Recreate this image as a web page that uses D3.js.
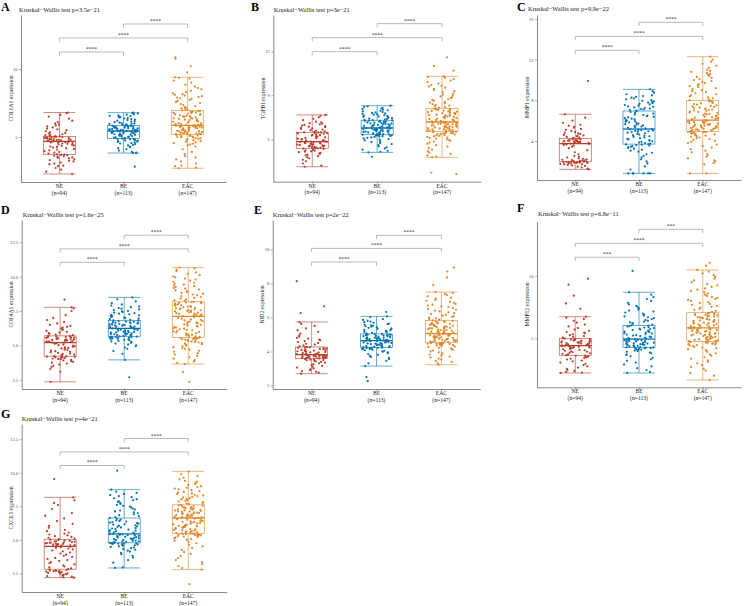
<!DOCTYPE html>
<html><head><meta charset="utf-8">
<script src="https://cdn.jsdelivr.net/npm/d3@7"></script>
<style>
body{margin:0;background:#fff}
svg{display:block}
text{font-family:"Liberation Serif","Times New Roman",serif}
</style>
</head><body><svg id="c" width="753" height="606"></svg>
<script>
// ---------------- data ----------------
const groups = ["NE","BE","EAC"];
const groupN = ["(n=94)","(n=113)","(n=147)"];
const colors = ["#BC3C29","#0072B5","#E18727"];
const panelLetters = ["A","B","C","D","E","F","G"];
const genes = ["COL1A1","TGFBI","MMP1","COL4A1","NID2","MMP12","CXCL1"];
const kwP = ["3.5e\u221221","3e\u221221","9.9e\u221222","1.6e\u221225","2e\u221222","6.8e\u221211","4e\u221221"];
const yTicks = [[5,10],[6,9,12],[4,8,12,16],[2.5,5,7.5,10,12.5],[2,4,6,8,10],[5,10],[2.5,5,7.5,10,12.5]];
const yTickLabels = [["5","10"],["6","9","12"],["4","8","12","16"],["2.5","5.0","7.5","10.0","12.5"],["2","4","6","8","10"],["5","10"],["2.5","5.0","7.5","10.0","12.5"]];
const yDomains = [[1.69,13.97],[3.11,14.47],[0.17,16.39],[1.85,14.1],[1.79,11.73],[1.07,14.35],[1.12,13.63]];
const comparisons = [[1,2],[0,2],[0,1]];
const sigA = ["****","****","****"], sigB = ["****","****","****"], sigC = ["****","****","****"],
      sigD = ["****","****","****"], sigE = ["****","****","****"], sigF = ["***","****","***"], sigG = ["****","****","****"];
const sigLabels = [sigA,sigB,sigC,sigD,sigE,sigF,sigG];
const bracketY = [[13.31,12.28,11.25],[13.88,12.93,11.97],[15.67,14.29,12.92],[13.0,12.01,11.03],[10.83,10.06,9.26],[13.74,12.62,11.5],[12.55,11.55,10.54]];

// box stats per group: [lower whisker, Q1, median, Q3, upper whisker]
const boxA = [[2.28,3.73,4.68,5.05,6.8],[3.82,4.9,5.44,5.83,6.79],[2.7,5.2,5.86,6.96,9.39]];
const boxB = [[4.13,5.39,5.84,6.48,7.66],[5.11,6.31,6.77,7.3,8.29],[4.77,6.52,7.18,8.11,10.29]];
const boxC = [[1.22,1.96,3.74,4.27,6.63],[0.82,3.7,5.18,6.95,9.08],[0.82,4.92,6.06,8.0,12.29]];
const boxD = [[2.37,4.23,5.21,5.7,7.77],[3.96,5.65,6.24,6.83,8.49],[3.66,5.58,7.11,8.17,10.65]];
const boxE = [[2.69,3.58,3.81,4.26,5.73],[3.14,4.23,4.63,5.03,6.06],[3.22,4.51,5.05,5.83,7.49]];
const boxF = [[2.22,3.64,4.41,5.0,6.73],[2.22,4.28,4.94,6.04,8.69],[1.66,4.76,5.83,7.05,10.48]];
const boxG = [[2.19,2.82,4.52,5.05,8.17],[2.91,4.78,5.45,6.63,8.74],[2.79,5.48,6.63,7.61,10.1]];
const boxStats = [boxA,boxB,boxC,boxD,boxE,boxF,boxG];

// individual sample values
const A_NE = [2.28,2.45,2.6,2.72,2.85,2.9,3.0,3.05,3.12,3.2,3.25,3.3,3.38,3.42,3.47,3.5,3.55,3.58,3.62,3.65,3.68,3.7,3.73,
3.78,3.85,3.9,3.96,4.02,4.08,4.12,4.18,4.22,4.27,4.3,4.35,4.38,4.42,4.45,4.5,4.52,4.55,4.58,4.6,4.62,4.64,4.66,4.68,
4.69,4.7,4.72,4.73,4.75,4.76,4.78,4.8,4.81,4.83,4.85,4.86,4.88,4.9,4.91,4.93,4.95,4.96,4.98,5.0,5.01,5.02,5.04,5.05,
5.08,5.12,5.15,5.2,5.25,5.3,5.35,5.42,5.5,5.56,5.62,5.7,5.78,5.85,5.92,6.0,6.1,6.2,6.35,6.5,6.62,6.75,6.8];
const A_BE = [2.82,3.82,3.83,3.85,3.9,4.0,4.1,4.18,4.25,4.3,4.38,4.42,4.48,4.52,4.55,4.6,4.63,4.66,4.7,4.72,4.75,4.78,4.8,4.83,4.85,4.87,4.89,4.9,
4.92,4.95,4.97,5.0,5.02,5.05,5.07,5.1,5.12,5.14,5.16,5.18,5.2,5.22,5.24,5.26,5.28,5.3,5.32,5.34,5.35,5.37,5.38,5.4,5.41,5.42,5.43,5.44,
5.45,5.46,5.48,5.49,5.5,5.52,5.53,5.55,5.56,5.58,5.59,5.6,5.62,5.63,5.65,5.66,5.68,5.69,5.7,5.72,5.73,5.75,5.76,5.78,5.79,5.8,5.82,5.83,
5.85,5.87,5.9,5.93,5.95,5.98,6.0,6.03,6.06,6.1,6.13,6.16,6.2,6.24,6.28,6.32,6.36,6.4,6.44,6.48,6.5,6.53,6.56,6.6,6.64,6.68,6.72,6.76,6.79];
const A_EAC = [2.7,2.75,2.85,2.9,3.05,3.2,3.35,3.5,3.6,3.75,3.9,4.1,4.3,4.4,4.45,4.5,4.55,4.6,4.65,4.7,4.75,4.8,4.83,4.86,4.9,4.92,4.95,4.98,5.0,5.03,5.05,5.08,5.1,5.12,5.15,5.18,5.2,
5.21,5.23,5.25,5.27,5.29,5.31,5.33,5.35,5.37,5.39,5.41,5.43,5.45,5.47,5.49,5.51,5.53,5.55,5.57,5.59,5.61,5.63,5.65,5.67,5.69,5.71,5.73,5.74,5.76,5.77,5.79,5.8,5.82,5.83,5.84,5.85,5.86,
5.88,5.91,5.94,5.97,6.0,6.03,6.06,6.09,6.12,6.15,6.18,6.21,6.24,6.27,6.3,6.33,6.36,6.39,6.42,6.45,6.48,6.51,6.54,6.57,6.6,6.63,6.66,6.69,6.72,6.75,6.78,6.81,6.84,6.87,6.9,6.93,6.96,
7.0,7.05,7.1,7.15,7.2,7.28,7.35,7.42,7.5,7.58,7.65,7.72,7.8,7.85,7.9,7.95,8.0,8.05,8.1,8.15,8.2,8.3,8.4,8.5,8.6,8.7,8.85,9.0,9.15,9.3,9.35,9.39,9.75,10.2,10.75,10.86];

const B_NE = [4.13,4.2,4.35,4.5,4.6,4.7,4.78,4.85,4.9,4.95,5.0,5.05,5.08,5.12,5.15,5.18,5.22,5.25,5.28,5.31,5.34,5.37,5.39,
5.4,5.42,5.44,5.46,5.48,5.5,5.52,5.54,5.56,5.58,5.6,5.62,5.64,5.66,5.68,5.7,5.72,5.74,5.76,5.78,5.8,5.81,5.83,5.84,
5.86,5.89,5.92,5.95,5.98,6.01,6.04,6.07,6.1,6.13,6.16,6.19,6.22,6.25,6.28,6.31,6.34,6.37,6.4,6.42,6.44,6.46,6.47,6.48,
6.5,6.54,6.58,6.62,6.66,6.7,6.74,6.78,6.82,6.86,6.9,6.94,6.98,7.02,7.06,7.1,7.15,7.2,7.3,7.4,7.5,7.6,7.66];
const B_BE = [4.81,5.11,5.15,5.22,5.3,5.38,5.45,5.52,5.6,5.68,5.75,5.82,5.88,5.93,5.98,6.02,6.06,6.1,6.13,6.16,6.19,6.21,6.23,6.25,6.27,6.28,6.3,6.31,
6.32,6.34,6.35,6.37,6.39,6.4,6.42,6.44,6.45,6.47,6.49,6.5,6.52,6.54,6.55,6.57,6.59,6.6,6.62,6.64,6.65,6.67,6.69,6.7,6.72,6.74,6.75,6.77,
6.79,6.81,6.83,6.85,6.87,6.89,6.91,6.93,6.95,6.97,6.99,7.01,7.03,7.05,7.07,7.09,7.11,7.13,7.15,7.17,7.19,7.21,7.23,7.24,7.26,7.27,7.29,7.3,
7.32,7.35,7.38,7.41,7.44,7.47,7.5,7.53,7.56,7.59,7.62,7.65,7.68,7.71,7.74,7.77,7.8,7.83,7.86,7.9,7.94,7.98,8.02,8.06,8.1,8.15,8.2,8.25,8.29];
const B_EAC = [3.63,3.72,4.77,4.82,4.9,5.0,5.1,5.2,5.3,5.4,5.5,5.6,5.7,5.78,5.85,5.9,5.95,6.0,6.04,6.08,6.12,6.16,6.2,6.23,6.26,6.29,6.32,6.35,6.37,6.39,6.41,6.43,6.45,6.47,6.49,6.51,6.52,
6.54,6.56,6.57,6.59,6.61,6.63,6.65,6.67,6.68,6.7,6.72,6.74,6.76,6.77,6.79,6.81,6.83,6.85,6.86,6.88,6.9,6.92,6.94,6.95,6.97,6.99,7.01,7.03,7.04,7.06,7.08,7.1,7.12,7.13,7.15,7.17,7.18,
7.2,7.23,7.25,7.28,7.3,7.33,7.35,7.38,7.4,7.43,7.45,7.48,7.5,7.53,7.55,7.58,7.6,7.63,7.65,7.68,7.7,7.73,7.75,7.78,7.8,7.83,7.85,7.88,7.9,7.93,7.95,7.98,8.0,8.03,8.05,8.08,8.11,
8.15,8.2,8.25,8.3,8.35,8.4,8.45,8.5,8.56,8.62,8.68,8.74,8.8,8.86,8.92,8.98,9.05,9.12,9.2,9.28,9.36,9.44,9.52,9.6,9.65,9.7,9.8,9.9,10.0,10.1,10.2,10.25,10.29,10.68,11.0,11.59];

const C_NE = [1.22,1.3,1.4,1.48,1.55,1.6,1.65,1.7,1.73,1.76,1.79,1.82,1.84,1.86,1.88,1.9,1.91,1.92,1.93,1.94,1.95,1.96,1.96,
1.98,2.0,2.02,2.05,2.08,2.1,2.13,2.16,2.2,2.25,2.3,2.38,2.45,2.55,2.7,2.9,3.1,3.3,3.45,3.55,3.62,3.67,3.71,3.74,
3.76,3.78,3.8,3.82,3.84,3.86,3.88,3.9,3.92,3.94,3.96,3.98,4.0,4.02,4.04,4.06,4.08,4.1,4.13,4.16,4.19,4.22,4.25,4.27,
4.3,4.35,4.4,4.45,4.5,4.55,4.6,4.68,4.75,4.82,4.9,5.0,5.1,5.2,5.3,5.4,5.5,5.6,5.8,6.0,6.3,6.63,9.9];
const C_BE = [0.82,0.82,0.82,0.82,0.82,0.82,1.2,1.5,1.8,2.0,2.2,2.4,2.55,2.7,2.85,2.95,3.05,3.15,3.25,3.32,3.4,3.45,3.5,3.55,3.6,3.64,3.67,3.7,
3.75,3.8,3.86,3.92,3.98,4.04,4.1,4.16,4.22,4.28,4.34,4.4,4.46,4.52,4.58,4.64,4.7,4.76,4.82,4.88,4.92,4.96,5.0,5.04,5.08,5.12,5.15,5.18,
5.24,5.3,5.36,5.42,5.48,5.54,5.6,5.66,5.72,5.78,5.84,5.9,5.96,6.02,6.08,6.14,6.2,6.26,6.32,6.38,6.44,6.5,6.56,6.62,6.7,6.78,6.86,6.95,
7.0,7.05,7.1,7.15,7.2,7.25,7.3,7.36,7.42,7.48,7.54,7.6,7.66,7.72,7.78,7.84,7.9,7.96,8.02,8.1,8.18,8.26,8.34,8.42,8.5,8.6,8.75,8.9,9.08];
const C_EAC = [0.82,0.82,1.7,1.85,2.0,2.1,2.3,2.45,2.6,2.75,2.9,3.05,3.2,3.35,3.5,3.65,3.8,3.92,4.02,4.12,4.2,4.28,4.35,4.42,4.48,4.54,4.6,4.65,4.7,4.74,4.78,4.82,4.85,4.87,4.89,4.91,4.92,
4.95,4.98,5.01,5.04,5.07,5.1,5.13,5.16,5.19,5.22,5.25,5.28,5.31,5.34,5.37,5.4,5.43,5.46,5.49,5.52,5.55,5.58,5.61,5.64,5.67,5.7,5.73,5.76,5.79,5.82,5.85,5.88,5.91,5.94,5.97,6.01,6.06,
6.1,6.15,6.2,6.25,6.3,6.35,6.4,6.45,6.5,6.55,6.6,6.65,6.7,6.75,6.8,6.85,6.9,6.95,7.0,7.05,7.1,7.15,7.2,7.25,7.3,7.35,7.4,7.46,7.52,7.58,7.64,7.7,7.76,7.82,7.88,7.94,8.0,
8.1,8.2,8.3,8.4,8.5,8.6,8.7,8.8,8.9,9.0,9.1,9.2,9.3,9.4,9.5,9.6,9.7,9.8,9.9,10.0,10.1,10.2,10.3,10.4,10.5,10.6,10.7,10.8,10.9,11.0,11.2,11.4,11.6,11.8,12.0,12.29];

const D_NE = [2.37,3.1,3.3,3.45,3.55,3.62,3.7,3.76,3.82,3.87,3.92,3.96,4.0,4.03,4.06,4.09,4.12,4.14,4.16,4.18,4.2,4.22,4.23,
4.27,4.31,4.35,4.39,4.43,4.47,4.51,4.55,4.59,4.63,4.67,4.71,4.75,4.79,4.83,4.87,4.91,4.95,4.99,5.03,5.08,5.13,5.17,5.21,
5.23,5.25,5.27,5.29,5.31,5.33,5.35,5.37,5.39,5.41,5.43,5.45,5.47,5.49,5.51,5.53,5.55,5.57,5.59,5.61,5.63,5.65,5.68,5.7,
5.75,5.8,5.85,5.9,5.95,6.0,6.06,6.12,6.18,6.24,6.3,6.36,6.42,6.5,6.6,6.7,6.85,7.0,7.2,7.5,7.7,7.77,8.33];
const D_BE = [2.7,3.96,4.4,4.6,4.75,4.85,4.95,5.02,5.08,5.14,5.2,5.25,5.3,5.34,5.38,5.42,5.45,5.48,5.5,5.52,5.54,5.56,5.58,5.6,5.61,5.62,5.64,5.65,
5.67,5.69,5.71,5.73,5.75,5.77,5.79,5.81,5.83,5.85,5.87,5.89,5.91,5.93,5.95,5.97,5.99,6.01,6.04,6.06,6.08,6.1,6.13,6.15,6.17,6.19,6.21,6.24,
6.26,6.28,6.3,6.32,6.34,6.36,6.38,6.4,6.42,6.44,6.46,6.48,6.5,6.52,6.54,6.56,6.58,6.6,6.62,6.64,6.66,6.68,6.7,6.72,6.74,6.77,6.8,6.83,
6.87,6.91,6.95,6.99,7.03,7.07,7.11,7.15,7.19,7.23,7.27,7.31,7.35,7.39,7.43,7.47,7.52,7.57,7.62,7.67,7.72,7.78,7.84,7.9,7.98,8.08,8.2,8.35,8.49];
const D_EAC = [2.37,3.07,3.66,3.75,3.85,3.95,4.05,4.15,4.25,4.35,4.45,4.55,4.62,4.7,4.76,4.82,4.88,4.94,5.0,5.05,5.1,5.14,5.18,5.22,5.26,5.3,5.33,5.36,5.39,5.42,5.45,5.47,5.5,5.52,5.54,5.56,5.58,
5.62,5.66,5.7,5.74,5.78,5.82,5.86,5.9,5.94,5.98,6.02,6.06,6.1,6.14,6.18,6.22,6.26,6.3,6.34,6.38,6.42,6.46,6.5,6.54,6.58,6.62,6.66,6.7,6.74,6.78,6.82,6.86,6.9,6.95,7.0,7.05,7.11,
7.14,7.17,7.2,7.23,7.26,7.29,7.32,7.35,7.38,7.41,7.44,7.47,7.5,7.53,7.56,7.59,7.62,7.65,7.68,7.71,7.74,7.77,7.8,7.83,7.86,7.89,7.92,7.95,7.98,8.01,8.04,8.07,8.1,8.12,8.14,8.16,8.17,
8.22,8.28,8.34,8.4,8.46,8.52,8.58,8.64,8.7,8.76,8.82,8.88,8.94,9.0,9.06,9.12,9.18,9.24,9.3,9.36,9.42,9.48,9.55,9.62,9.7,9.78,9.86,9.94,10.02,10.1,10.2,10.3,10.4,10.5,10.6,10.65];

const E_NE = [2.69,2.75,2.8,2.85,2.9,2.95,3.0,3.05,3.1,3.15,3.2,3.25,3.3,3.34,3.38,3.42,3.45,3.48,3.5,3.52,3.54,3.56,3.58,
3.59,3.6,3.61,3.62,3.63,3.64,3.65,3.66,3.67,3.68,3.69,3.7,3.71,3.72,3.73,3.74,3.75,3.76,3.77,3.78,3.79,3.8,3.8,3.81,
3.83,3.85,3.87,3.89,3.91,3.93,3.95,3.97,3.99,4.01,4.03,4.05,4.07,4.09,4.11,4.13,4.15,4.17,4.19,4.21,4.22,4.24,4.25,4.26,
4.3,4.35,4.4,4.45,4.5,4.55,4.6,4.65,4.7,4.75,4.8,4.87,4.95,5.05,5.15,5.25,5.35,5.5,5.62,5.73,6.26,6.65,8.13];
const E_BE = [2.25,2.49,3.14,3.3,3.45,3.55,3.62,3.68,3.74,3.8,3.85,3.9,3.94,3.98,4.01,4.04,4.07,4.1,4.12,4.14,4.16,4.17,4.18,4.19,4.2,4.21,4.22,4.23,
4.25,4.26,4.28,4.29,4.31,4.32,4.34,4.35,4.37,4.38,4.4,4.41,4.43,4.44,4.46,4.47,4.49,4.5,4.52,4.53,4.55,4.56,4.58,4.59,4.6,4.61,4.62,4.63,
4.65,4.66,4.68,4.69,4.71,4.72,4.74,4.75,4.77,4.78,4.8,4.81,4.83,4.84,4.86,4.87,4.89,4.9,4.92,4.93,4.95,4.96,4.97,4.98,4.99,5.0,5.02,5.03,
5.06,5.09,5.12,5.15,5.18,5.21,5.24,5.27,5.3,5.33,5.36,5.39,5.42,5.45,5.48,5.51,5.54,5.57,5.6,5.64,5.68,5.72,5.76,5.8,5.85,5.9,6.32,6.02,6.06];
const E_EAC = [3.22,3.3,3.38,3.45,3.52,3.58,3.64,3.7,3.76,3.82,3.88,3.94,4.0,4.05,4.1,4.14,4.18,4.22,4.26,4.29,4.32,4.35,4.37,4.39,4.41,4.42,4.43,4.44,4.45,4.46,4.47,4.48,4.49,4.5,4.5,4.51,4.51,
4.53,4.55,4.56,4.58,4.59,4.61,4.62,4.64,4.65,4.67,4.68,4.7,4.71,4.73,4.74,4.76,4.77,4.79,4.8,4.82,4.83,4.85,4.86,4.88,4.89,4.91,4.92,4.94,4.95,4.97,4.98,5.0,5.01,5.02,5.03,5.04,5.05,
5.07,5.09,5.11,5.13,5.15,5.17,5.19,5.21,5.23,5.25,5.27,5.29,5.31,5.33,5.35,5.37,5.39,5.41,5.43,5.45,5.47,5.49,5.51,5.53,5.55,5.57,5.59,5.61,5.63,5.65,5.67,5.69,5.72,5.75,5.78,5.8,5.83,
5.87,5.91,5.95,5.99,6.03,6.07,6.11,6.15,6.2,6.25,6.3,6.35,6.4,6.45,6.5,6.55,6.6,6.65,6.7,6.75,6.8,6.86,6.92,6.98,7.04,7.1,7.17,7.24,7.31,7.38,7.44,7.49,7.9,8.35,8.7,8.93];

const F_NE = [2.22,2.25,2.3,2.38,2.45,2.55,2.65,2.75,2.85,2.95,3.05,3.15,3.22,3.3,3.36,3.42,3.47,3.51,3.55,3.58,3.6,3.62,3.64,
3.68,3.72,3.76,3.8,3.84,3.88,3.92,3.96,4.0,4.04,4.08,4.12,4.16,4.2,4.23,4.26,4.29,4.31,4.33,4.35,4.37,4.39,4.4,4.41,
4.43,4.46,4.48,4.51,4.53,4.56,4.58,4.61,4.63,4.66,4.68,4.71,4.73,4.76,4.78,4.81,4.83,4.86,4.88,4.91,4.93,4.96,4.98,5.0,
5.06,5.12,5.18,5.25,5.32,5.4,5.45,5.5,5.6,5.7,5.82,5.95,6.1,6.25,6.4,6.55,6.65,6.73,7.37,7.8,8.42,9.3,9.78];
const F_BE = [2.22,2.3,2.45,2.6,2.75,2.9,3.05,3.2,3.32,3.44,3.55,3.64,3.72,3.8,3.86,3.92,3.97,4.02,4.06,4.1,4.13,4.16,4.19,4.21,4.23,4.25,4.27,4.28,
4.3,4.33,4.35,4.38,4.4,4.43,4.45,4.48,4.5,4.53,4.55,4.58,4.6,4.63,4.65,4.68,4.7,4.73,4.75,4.78,4.8,4.83,4.85,4.87,4.89,4.91,4.93,4.94,
4.98,5.02,5.06,5.1,5.14,5.18,5.22,5.26,5.3,5.34,5.38,5.42,5.46,5.5,5.54,5.58,5.62,5.66,5.7,5.74,5.78,5.82,5.86,5.9,5.94,5.98,6.01,6.04,
6.1,6.16,6.22,6.28,6.34,6.4,6.47,6.54,6.61,6.68,6.75,6.82,6.9,6.98,7.06,7.14,7.22,7.3,7.4,7.5,7.6,7.72,7.85,8.0,8.15,8.3,8.5,8.69,10.4];
const F_EAC = [1.66,2.0,2.2,2.4,2.55,2.7,2.85,3.0,3.12,3.24,3.36,3.48,3.6,3.7,3.8,3.9,3.98,4.06,4.13,4.2,4.26,4.32,4.37,4.42,4.46,4.5,4.54,4.57,4.6,4.63,4.65,4.67,4.69,4.71,4.73,4.75,4.76,
4.79,4.82,4.85,4.88,4.91,4.94,4.97,5.0,5.03,5.06,5.09,5.12,5.15,5.18,5.21,5.24,5.27,5.3,5.33,5.36,5.39,5.42,5.45,5.48,5.51,5.54,5.57,5.6,5.63,5.66,5.69,5.72,5.75,5.77,5.79,5.81,5.83,
5.86,5.9,5.93,5.97,6.0,6.04,6.07,6.11,6.14,6.18,6.21,6.25,6.28,6.32,6.35,6.39,6.42,6.46,6.49,6.53,6.56,6.6,6.63,6.67,6.7,6.74,6.77,6.8,6.83,6.86,6.89,6.92,6.95,6.98,7.0,7.03,7.05,
7.12,7.2,7.28,7.36,7.44,7.52,7.6,7.68,7.76,7.84,7.92,8.0,8.08,8.16,8.24,8.32,8.4,8.5,8.6,8.7,8.8,8.9,9.0,9.12,9.24,9.36,9.5,9.64,9.78,9.92,10.06,10.2,10.34,10.48,10.8,11.06];

const G_NE = [2.19,2.22,2.26,2.3,2.34,2.38,2.42,2.45,2.48,2.51,2.54,2.57,2.6,2.62,2.64,2.66,2.68,2.7,2.72,2.74,2.76,2.79,2.82,
2.88,2.95,3.02,3.1,3.18,3.26,3.34,3.42,3.5,3.58,3.66,3.74,3.82,3.9,3.98,4.06,4.14,4.22,4.3,4.36,4.41,4.45,4.49,4.52,
4.54,4.56,4.58,4.6,4.62,4.64,4.66,4.68,4.7,4.72,4.74,4.76,4.78,4.8,4.82,4.84,4.86,4.88,4.9,4.93,4.96,4.99,5.02,5.05,
5.1,5.16,5.22,5.28,5.34,5.4,5.47,5.55,5.65,5.75,5.9,6.05,6.2,6.4,6.6,6.8,7.0,7.3,7.6,7.75,7.95,8.17,9.53];
const G_BE = [2.91,2.95,3.3,3.5,3.68,3.82,3.94,4.04,4.12,4.2,4.26,4.32,4.38,4.43,4.48,4.52,4.56,4.6,4.63,4.66,4.68,4.7,4.72,4.73,4.74,4.75,4.77,4.78,
4.8,4.83,4.85,4.88,4.9,4.93,4.95,4.98,5.0,5.03,5.05,5.08,5.1,5.13,5.15,5.18,5.2,5.23,5.25,5.28,5.3,5.33,5.35,5.38,5.4,5.42,5.44,5.45,
5.49,5.53,5.57,5.61,5.65,5.69,5.73,5.77,5.81,5.85,5.89,5.93,5.97,6.01,6.05,6.09,6.13,6.17,6.21,6.25,6.29,6.33,6.37,6.41,6.46,6.51,6.57,6.63,
6.7,6.77,6.84,6.91,6.98,7.05,7.12,7.19,7.26,7.33,7.4,7.47,7.54,7.61,7.68,7.75,7.82,7.89,7.96,8.03,8.1,8.18,8.26,8.34,8.42,8.5,8.6,8.74,10.16];
const G_EAC = [1.71,2.79,2.9,3.05,3.2,3.35,3.5,3.65,3.8,3.95,4.1,4.25,4.4,4.52,4.64,4.75,4.85,4.94,5.02,5.08,5.13,5.17,5.21,5.25,5.28,5.31,5.34,5.36,5.38,5.4,5.42,5.43,5.44,5.45,5.46,5.47,5.48,
5.51,5.54,5.57,5.6,5.63,5.66,5.69,5.72,5.75,5.78,5.81,5.84,5.87,5.9,5.93,5.96,5.99,6.02,6.05,6.08,6.11,6.14,6.17,6.2,6.23,6.26,6.29,6.32,6.35,6.38,6.41,6.44,6.47,6.5,6.54,6.58,6.63,
6.65,6.68,6.7,6.73,6.75,6.78,6.8,6.83,6.85,6.88,6.9,6.93,6.95,6.98,7.0,7.03,7.05,7.08,7.1,7.13,7.15,7.18,7.2,7.23,7.25,7.28,7.3,7.33,7.36,7.39,7.42,7.45,7.48,7.52,7.55,7.58,7.61,
7.66,7.71,7.76,7.81,7.86,7.91,7.96,8.01,8.06,8.11,8.16,8.21,8.26,8.31,8.36,8.41,8.46,8.52,8.58,8.64,8.7,8.76,8.82,8.88,8.94,9.0,9.08,9.16,9.24,9.32,9.4,9.5,9.62,9.75,9.9,10.1];

const values = [[A_NE,A_BE,A_EAC],[B_NE,B_BE,B_EAC],[C_NE,C_BE,C_EAC],[D_NE,D_BE,D_EAC],[E_NE,E_BE,E_EAC],[F_NE,F_BE,F_EAC],[G_NE,G_BE,G_EAC]];

// ---------------- layout (pixels) ----------------
const frames = [
  {ax:21,   right:226,   top:15,    bottom:182,   lx:1,   ly:11,  tx:19,    ty:12.3},
  {ax:273.3,right:481,   top:15,    bottom:181.7, lx:251, ly:11,  tx:273.7, ty:12.3},
  {ax:537,  right:741,   top:15,    bottom:180,   lx:517, ly:11,  tx:528,   ty:11},
  {ax:21.7, right:226.7, top:220,   bottom:389,   lx:1,   ly:214, tx:22.7,  ty:217.3},
  {ax:272.7,right:480.3, top:220,   bottom:389,   lx:254, ly:214, tx:272.7, ty:217.3},
  {ax:537,  right:741,   top:221.7, bottom:387.3, lx:517, ly:212, tx:538,   ty:215.7},
  {ax:21.7, right:226.7, top:424,   bottom:592,   lx:1,   ly:418, tx:21.7,  ty:420.5}
];
const boxW = 32, jitterHalf = 15;

function jit(p,g,i){ const h = Math.sin((p*1009+g*317+i+1)*12.9898)*43758.5453; return h-Math.floor(h); }

const svg = d3.select("#c");
svg.append("rect").attr("width",753).attr("height",606).attr("fill","#fff");

frames.forEach((f,p)=>{
  const g = svg.append("g");
  const y = d3.scaleLinear().domain(yDomains[p]).range([f.bottom,f.top]);
  const x = d3.scalePoint().domain(groups).range([f.ax,f.right]).padding(0.6);

  // panel letter and title
  g.append("text").attr("x",f.lx).attr("y",f.ly).attr("font-size",12).attr("font-weight","bold").attr("fill","#000").text(panelLetters[p]);
  g.append("text").attr("x",f.tx).attr("y",f.ty).attr("font-size",6.5).attr("fill","#1a1a1a").text("Kruskal\u2212Wallis test p="+kwP[p]);

  // boxes
  groups.forEach((grp,gi)=>{
    const s = boxStats[p][gi], cx = x(grp), col = colors[gi];
    const bg = g.append("g").attr("stroke",col).attr("fill","none");
    bg.append("line").attr("x1",cx).attr("x2",cx).attr("y1",y(s[0])).attr("y2",y(s[1])).attr("stroke-width",0.6);
    bg.append("line").attr("x1",cx).attr("x2",cx).attr("y1",y(s[3])).attr("y2",y(s[4])).attr("stroke-width",0.6);
    bg.append("line").attr("x1",cx-boxW/2).attr("x2",cx+boxW/2).attr("y1",y(s[0])).attr("y2",y(s[0])).attr("stroke-width",0.6);
    bg.append("line").attr("x1",cx-boxW/2).attr("x2",cx+boxW/2).attr("y1",y(s[4])).attr("y2",y(s[4])).attr("stroke-width",0.6);
    bg.append("rect").attr("x",cx-boxW/2).attr("width",boxW).attr("y",y(s[3])).attr("height",y(s[1])-y(s[3])).attr("fill","#fff").attr("stroke-width",0.6);
    bg.append("line").attr("x1",cx-boxW/2).attr("x2",cx+boxW/2).attr("y1",y(s[2])).attr("y2",y(s[2])).attr("stroke-width",1.3);
  });
  // points
  groups.forEach((grp,gi)=>{
    const cx = x(grp);
    g.append("g").selectAll("circle").data(values[p][gi]).join("circle")
      .attr("cx",(d,i)=>cx+(jit(p,gi,i)*2-1)*jitterHalf)
      .attr("cy",d=>y(d)).attr("r",1.1).attr("fill",colors[gi]);
  });

  // axes
  const ya = g.append("g").attr("transform",`translate(${f.ax},0)`)
    .call(d3.axisLeft(y).tickValues(yTicks[p]).tickFormat((d,i)=>yTickLabels[p][i]).tickSize(2).tickSizeOuter(0).tickPadding(1.5));
  ya.select(".domain").attr("stroke","#555").attr("stroke-width",0.7);
  ya.selectAll(".tick line").attr("stroke","#555").attr("stroke-width",0.5);
  ya.selectAll(".tick text").attr("font-size",4.5).attr("fill","#4d4d4d").attr("font-family","Liberation Serif");

  const xa = g.append("g").attr("transform",`translate(0,${f.bottom})`)
    .call(d3.axisBottom(x).tickSize(2).tickSizeOuter(0).tickFormat(""));
  xa.select(".domain").attr("stroke","#555").attr("stroke-width",0.7);
  xa.selectAll(".tick line").attr("stroke","#555").attr("stroke-width",0.5);
  groups.forEach((grp,gi)=>{
    g.append("text").attr("x",x(grp)).attr("y",f.bottom+6).attr("text-anchor","middle").attr("font-size",5.6).attr("fill","#1a1a1a").text(grp);
    g.append("text").attr("x",x(grp)).attr("y",f.bottom+12.5).attr("text-anchor","middle").attr("font-size",5.6).attr("fill","#1a1a1a").text(groupN[gi]);
  });

  // y title
  const ym = (f.top+f.bottom)/2;
  g.append("text").attr("transform",`translate(${f.ax-8.5},${ym}) rotate(-90)`).attr("text-anchor","middle")
    .attr("font-size",5.6).attr("fill","#1a1a1a").text(genes[p]+" expression");

  // significance brackets
  comparisons.forEach((c,ci)=>{
    const xa1 = x(groups[c[0]]), xb1 = x(groups[c[1]]), yb = y(bracketY[p][ci]);
    g.append("path").attr("d",`M${xa1},${yb+3.7}V${yb}H${xb1}V${yb+3.7}`).attr("fill","none").attr("stroke","#8c8c8c").attr("stroke-width",0.6);
    g.append("text").attr("x",(xa1+xb1)/2).attr("y",yb-1).attr("text-anchor","middle").attr("font-size",5.5).attr("fill","#333").text(sigLabels[p][ci]);
  });
});
</script>
</body></html>
